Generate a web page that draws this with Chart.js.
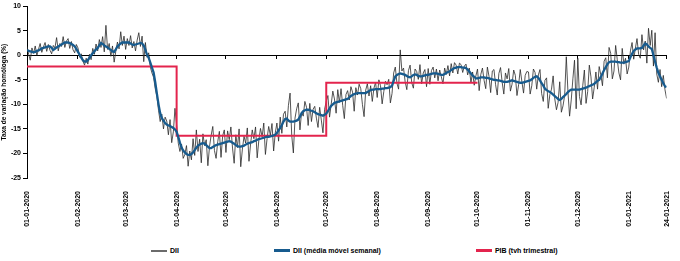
<!DOCTYPE html>
<html>
<head>
<meta charset="utf-8">
<script src="https://cdn.jsdelivr.net/npm/chart.js@4.4.1/dist/chart.umd.min.js"></script>
<style>
  html, body { margin: 0; padding: 0; background: #fff; }
  #wrap { width: 680px; height: 261px; position: relative; }
  #chart { display: block; }
  .legend { display: flex; align-items: center; height: 21px; padding-left: 151px; gap: 95px;
    font: bold 7px "Liberation Sans", Arial, sans-serif; color: #000; }
  .legend span.item { display: flex; align-items: center; white-space: nowrap; }
  .legend i { display: inline-block; width: 16px; margin-right: 3px; }
</style>
</head>
<body>
<div id="wrap">
  <canvas id="chart" width="680" height="240"></canvas>
  <div class="legend" id="legend"></div>
</div>
<script>
// dias desde 01-01-2020
const startDate = '01-01-2020';

// DII diário, por mês
const diiJan20 = [1.8, 0.2, -1.0, 1.5, 0.4, 1.9, 0.0, 1.2, 2.4, 0.6, 1.7, 2.6, 0.8, 2.2, 1.0, 0.3, 2.0, 1.5, 3.6, 0.9, 2.4, 1.8, 3.8, 1.6, 2.9, 3.4, 1.4, 2.8, 1.1, 0.5, 2.2];
const diiFeb20 = [1.5, -0.4, 0.3, -1.2, -2.0, -0.6, -1.8, 0.2, -0.9, 1.4, 0.2, 2.3, 0.9, 3.2, 1.6, 3.8, 0.7, 6.1, 1.2, 2.4, -0.2, 1.9, -1.4, 0.8, 2.7, 1.3, 4.8, 2.0, 3.9];
const diiMar20 = [1.2, 3.4, 2.0, 4.0, 1.5, 2.8, 0.9, 3.1, 4.6, 1.8, 3.9, -1.3, 2.6, -0.4, 0.5, -2.4, -3.6, -4.5, -6.8, -8.4, -11.2, -13.5, -12.0, -15.0, -12.6, -13.4, -16.2, -13.1, -17.8, -15.6, -10.8];
const diiApr20 = [-14.2, -17.9, -19.6, -18.1, -21.0, -20.2, -18.4, -22.6, -19.5, -21.3, -17.0, -20.4, -15.2, -19.6, -17.1, -21.9, -16.0, -18.4, -17.2, -22.5, -18.6, -16.3, -14.5, -19.4, -21.0, -17.6, -15.5, -20.8, -16.4, -15.2];
const diiMay20 = [-19.8, -15.4, -17.2, -14.6, -18.9, -22.0, -16.2, -18.8, -15.0, -22.7, -19.1, -16.5, -17.9, -14.8, -21.6, -18.0, -15.2, -17.0, -14.6, -20.9, -17.3, -14.9, -16.6, -13.8, -20.2, -17.0, -14.5, -16.3, -13.9, -19.5, -15.8];
const diiJun20 = [-13.8, -17.5, -12.6, -15.9, -12.0, -11.4, -14.6, -10.2, -7.7, -16.3, -19.9, -12.8, -10.9, -9.7, -15.2, -11.6, -12.4, -9.4, -10.6, -14.3, -9.8, -13.5, -11.0, -10.4, -12.8, -14.7, -10.6, -13.2, -15.8, -11.0];
const diiJul20 = [-9.4, -8.2, -12.6, -10.0, -7.3, -8.9, -11.8, -7.0, -9.6, -6.8, -10.2, -12.9, -8.0, -7.2, -9.1, -6.4, -7.5, -11.4, -6.6, -8.1, -5.9, -6.8, -10.0, -12.5, -7.1, -5.8, -8.3, -6.2, -9.4, -6.7, -5.5];
const diiAug20 = [-8.6, -5.0, -6.2, -9.9, -7.4, -5.3, -6.0, -4.9, -9.7, -7.8, -3.6, -2.4, -5.7, -6.9, 1.1, -3.2, -2.6, -5.4, -7.0, -3.1, -2.0, -5.6, -6.7, -2.8, -3.3, -4.9, -1.9, -5.8, -3.6, -2.9, -6.4];
const diiSep20 = [-2.7, -5.9, -3.1, -2.4, -4.6, -2.8, -5.2, -3.0, -4.4, -5.8, -2.6, -3.9, -2.1, -4.2, -1.7, -3.6, -1.5, -2.0, -3.8, -1.6, -1.9, -3.5, -2.2, -1.8, -4.0, -2.6, -5.6, -3.4, -6.1, -4.2];
const diiOct20 = [-2.8, -7.2, -3.9, -2.6, -5.1, -6.8, -2.4, -4.3, -7.6, -3.2, -2.9, -6.0, -8.1, -3.7, -2.5, -5.5, -7.9, -3.6, -4.8, -2.7, -7.3, -5.9, -3.0, -4.1, -8.2, -6.0, -2.9, -5.4, -7.7, -4.1, -3.3];
const diiNov20 = [-3.4, -7.9, -6.2, -2.8, -3.5, -6.9, -4.0, -2.9, -7.8, -9.4, -5.1, -4.6, -10.8, -8.0, -6.9, -4.2, -8.9, -11.1, -9.6, -5.4, -11.6, -10.3, -8.2, -0.3, -7.4, -12.4, -9.1, -4.8, -1.0, -10.9];
const diiDec20 = [-0.6, -8.4, -10.1, -6.2, -3.0, -9.8, -7.4, -2.0, -4.4, -8.9, -6.5, -3.4, -6.9, -2.3, -4.0, -6.2, -1.2, -0.5, -4.6, 1.6, 0.4, -4.8, -3.2, 2.0, -0.9, -3.6, -5.0, 1.4, -1.8, -0.6, -3.8];
const diiJan21 = [-2.4, 0.9, 2.6, -0.8, 1.4, 3.4, 0.2, -0.6, 4.2, 1.1, 2.9, -1.6, 5.5, 2.0, 5.1, -2.2, 4.6, -3.8, -5.5, -2.9, -6.4, -4.1, -7.0, -8.8];

// DII média móvel semanal, por mês
const mmJan20 = [1.1, 0.9, 0.8, 0.7, 0.6, 0.7, 0.9, 1.0, 1.2, 1.4, 1.5, 1.6, 1.7, 1.8, 1.8, 1.5, 1.1, 1.3, 1.6, 1.8, 2.0, 2.2, 2.4, 2.6, 2.6, 2.6, 2.5, 2.3, 2.1, 1.8, 1.3];
const mmFeb20 = [0.7, 0.1, -0.5, -1.0, -1.3, -1.3, -1.0, -0.5, 0.0, 0.4, 0.8, 1.2, 1.5, 2.0, 2.5, 2.3, 2.0, 1.8, 1.6, 1.3, 1.1, 0.8, 0.7, 1.2, 1.8, 2.1, 2.4, 2.6, 2.6];
const mmMar20 = [2.6, 2.6, 2.6, 2.4, 2.2, 2.1, 2.2, 2.3, 2.4, 2.5, 2.4, 2.0, 1.1, 0.1, -0.5, -1.5, -2.5, -3.5, -5.5, -7.8, -10.0, -11.8, -12.8, -13.3, -13.8, -14.1, -14.3, -14.4, -14.6, -14.8, -15.1];
const mmApr20 = [-15.6, -16.6, -17.8, -18.8, -19.4, -19.8, -20.1, -20.3, -20.3, -20.1, -19.8, -19.3, -18.8, -18.4, -18.2, -18.0, -17.9, -18.0, -18.3, -18.6, -18.9, -18.9, -18.7, -18.5, -18.3, -18.2, -18.1, -18.0, -17.9, -17.8];
const mmMay20 = [-17.7, -17.6, -17.5, -17.6, -17.8, -18.0, -18.3, -18.5, -18.6, -18.6, -18.5, -18.4, -18.2, -18.0, -17.9, -17.8, -17.7, -17.5, -17.4, -17.2, -17.1, -17.0, -16.9, -16.8, -16.7, -16.6, -16.6, -16.5, -16.4, -16.3, -16.2];
const mmJun20 = [-15.8, -15.3, -14.8, -14.2, -13.5, -13.0, -12.9, -13.3, -13.5, -13.5, -13.5, -13.4, -13.3, -13.1, -12.5, -11.8, -11.4, -11.2, -11.1, -11.1, -11.2, -11.3, -11.4, -11.6, -11.8, -12.0, -12.1, -12.2, -12.3, -12.1];
const mmJul20 = [-11.9, -11.4, -10.8, -10.3, -10.0, -9.7, -9.6, -9.5, -9.4, -9.3, -9.2, -9.1, -9.0, -8.9, -8.6, -8.3, -8.1, -7.9, -7.8, -7.7, -7.7, -7.7, -7.7, -7.7, -7.7, -7.5, -7.3, -7.1, -7.0, -7.0, -6.9];
const mmAug20 = [-6.9, -6.9, -6.9, -6.8, -6.8, -6.7, -6.7, -6.6, -6.5, -6.2, -5.2, -4.3, -4.0, -3.8, -3.7, -3.8, -3.9, -4.0, -4.2, -4.4, -4.5, -4.3, -4.0, -3.9, -4.0, -4.2, -4.3, -4.3, -4.2, -4.1, -4.0];
const mmSep20 = [-4.0, -3.9, -3.8, -3.7, -3.7, -3.7, -3.8, -3.9, -4.0, -4.0, -3.8, -3.6, -3.4, -3.3, -3.0, -2.8, -2.6, -2.5, -2.4, -2.4, -2.4, -2.5, -2.5, -2.6, -2.9, -3.3, -3.7, -4.1, -4.4, -4.7];
const mmOct20 = [-4.7, -4.6, -4.5, -4.5, -4.5, -4.6, -4.6, -4.7, -4.8, -4.9, -5.0, -5.0, -5.1, -5.1, -5.2, -5.3, -5.4, -5.4, -5.4, -5.3, -5.2, -5.1, -5.2, -5.3, -5.4, -5.5, -5.6, -5.6, -5.5, -5.4, -5.3];
const mmNov20 = [-5.2, -5.1, -4.9, -4.6, -4.4, -4.3, -4.6, -5.1, -5.7, -6.2, -6.8, -7.1, -7.3, -7.5, -7.7, -8.0, -8.3, -8.6, -8.9, -9.1, -8.9, -8.5, -8.2, -7.9, -7.5, -7.2, -7.0, -7.0, -7.0, -7.0];
const mmDec20 = [-7.0, -7.0, -6.9, -6.8, -6.7, -6.6, -6.4, -6.3, -6.1, -6.0, -5.8, -5.5, -5.2, -5.0, -4.4, -3.7, -3.0, -2.4, -1.8, -1.4, -1.3, -1.3, -1.3, -1.3, -1.4, -1.4, -1.5, -1.5, -1.5, -1.4, -1.3];
const mmJan21 = [-1.2, -0.4, 0.3, 0.9, 1.2, 1.4, 1.4, 1.4, 1.5, 2.0, 2.4, 2.2, 1.8, 1.5, 1.3, 0.0, -1.3, -2.5, -3.6, -4.3, -5.0, -5.7, -6.3, -6.5];

// PIB (tvh trimestral): início de cada trimestre e valor
const pibQuarterStarts = ['01-01-2020', '01-04-2020', '01-07-2020', '01-10-2020'];
const pibValues = [-2.3, -16.4, -5.6];

// eixo x
const tickLabels = ['01-01-2020', '01-02-2020', '01-03-2020', '01-04-2020', '01-05-2020', '01-06-2020',
  '01-07-2020', '01-08-2020', '01-09-2020', '01-10-2020', '01-11-2020', '01-12-2020', '01-01-2021', '24-01-2021'];

const seriesNames = ['DII', 'DII (média móvel semanal)', 'PIB (tvh trimestral)'];
const colors = ['#2a2a2a', '#175b8e', '#e3244d'];

function toUTC(s) {
  const p = s.split('-');
  return Date.UTC(+p[2], +p[1] - 1, +p[0]);
}
function dayOf(s) {
  return Math.round((toUTC(s) - toUTC(startDate)) / 86400000);
}

const dii = [].concat(diiJan20, diiFeb20, diiMar20, diiApr20, diiMay20, diiJun20, diiJul20,
  diiAug20, diiSep20, diiOct20, diiNov20, diiDec20, diiJan21);
const diiMM = [].concat(mmJan20, mmFeb20, mmMar20, mmApr20, mmMay20, mmJun20, mmJul20,
  mmAug20, mmSep20, mmOct20, mmNov20, mmDec20, mmJan21);

const tickDays = tickLabels.map(dayOf);
const lastDay = tickDays[tickDays.length - 1];
// o valor do trimestre vale do seu início até ao início do seguinte
const pibPoints = pibQuarterStarts.map((d, i) => ({ x: dayOf(d), y: pibValues[Math.min(i, pibValues.length - 1)] }));

const font = { family: '"Liberation Sans", Arial, sans-serif', size: 7, weight: 'bold' };

const monthTicks = (scale) => { scale.ticks = tickDays.map(v => ({ value: v })); };

new Chart(document.getElementById('chart'), {
  type: 'line',
  data: {
    datasets: [
      {
        label: seriesNames[1], data: diiMM.map((v, i) => ({ x: i, y: v })),
        borderColor: colors[1], borderWidth: 2.3, pointRadius: 0, order: 0
      },
      {
        label: seriesNames[2], data: pibPoints, stepped: 'before',
        borderColor: colors[2], borderWidth: 2, pointRadius: 0, order: 1
      },
      {
        label: seriesNames[0], data: dii.map((v, i) => ({ x: i, y: v })),
        borderColor: colors[0], borderWidth: 0.8, pointRadius: 0, order: 2
      }
    ]
  },
  options: {
    responsive: false,
    animation: false,
    layout: { padding: { top: 6, right: 10, left: 0, bottom: 0 } },
    plugins: { legend: { display: false }, tooltip: { enabled: false } },
    scales: {
      x: {
        type: 'linear', min: 0, max: lastDay,
        afterBuildTicks: monthTicks,
        afterFit: (s) => { s.height = 62; },
        grid: { display: false },
        border: { display: false },
        ticks: {
          autoSkip: false, minRotation: 90, maxRotation: 90, padding: 5,
          color: '#000', font: font,
          callback: (v, i) => tickLabels[i]
        }
      },
      x2: {
        type: 'linear', axis: 'x', position: { y: 0 }, min: 0, max: lastDay,
        afterBuildTicks: monthTicks,
        grid: { drawOnChartArea: false, drawTicks: true, tickLength: 3, color: '#000' },
        border: { display: true, color: '#000', width: 1 },
        ticks: { display: false }
      },
      y: {
        min: -25, max: 10,
        afterFit: (s) => { s.width = 27; },
        grid: { drawOnChartArea: false, drawTicks: true, tickLength: 4, color: '#000' },
        border: { display: true, color: '#000', width: 1 },
        ticks: { stepSize: 5, padding: 2, color: '#000', font: font },
        title: {
          display: true, text: 'Taxa de variação homóloga (%)', color: '#000',
          font: { family: font.family, size: 6.5, weight: 'bold' }, padding: 0
        }
      }
    }
  }
});

// legenda
const legendStyles = [
  { h: 2, c: '#6b6b6b' },
  { h: 3, c: colors[1] },
  { h: 3, c: colors[2] }
];
const legend = document.getElementById('legend');
[0, 1, 2].forEach(i => {
  const item = document.createElement('span');
  item.className = 'item';
  const sw = document.createElement('i');
  sw.style.height = legendStyles[i].h + 'px';
  sw.style.background = legendStyles[i].c;
  item.appendChild(sw);
  item.appendChild(document.createTextNode(seriesNames[i]));
  legend.appendChild(item);
});
</script>
</body>
</html>
